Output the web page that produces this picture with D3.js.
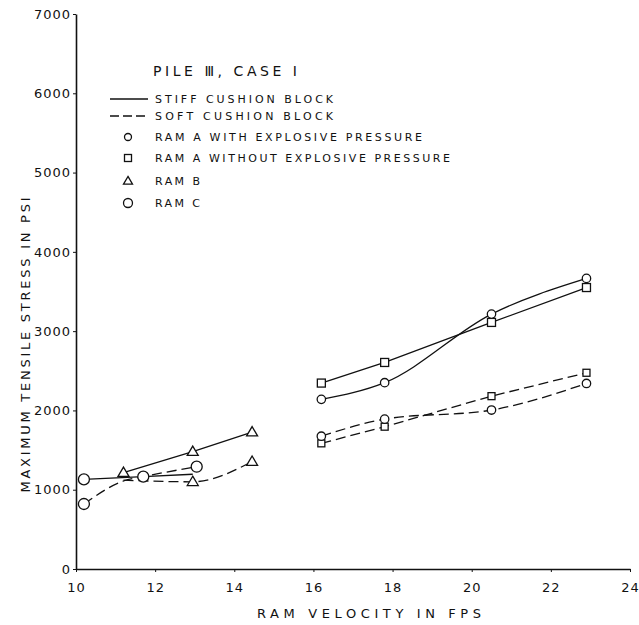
<!DOCTYPE html>
<html>
<head>
<meta charset="utf-8">
<script src="https://cdn.jsdelivr.net/npm/d3@7/dist/d3.min.js"></script>
<style>
  html, body { margin: 0; padding: 0; background: #fff; }
  svg text { font-family: "DejaVu Sans", sans-serif; fill: #111; }
</style>
</head>
<body>
<svg id="chart" width="639" height="625"></svg>
<script>
// ---- data ----
const xTicks = [10, 12, 14, 16, 18, 20, 22, 24];
const yTicks = [0, 1000, 2000, 3000, 4000, 5000, 6000, 7000];

// Ram A, right cluster
const ramAVel = [16.2, 17.8, 20.5, 22.9];
const ramAWithStiff = [2140, 2350, 3215, 3665];     // circles, solid
const ramAWithoutStiff = [2345, 2605, 3110, 3550];  // squares, solid
const ramAWithSoft = [1675, 1890, 2005, 2340];      // circles, dashed
const ramAWithoutSoft = [1585, 1795, 2180, 2475];   // squares, dashed

// Ram B (triangles)
const ramBVel = [11.2, 12.95, 14.45];
const ramBStiff = [1215, 1480, 1725];
const ramBSoft = [1120, 1100, 1355];
const ramBSoftMarked = [false, true, true];

// Ram C (large circles)
const ramCStiffVel = [10.2, 11.7, 12.95];
const ramCStiff = [1130, 1165, 1195];
const ramCStiffMarked = [true, true, false];
const ramCSoftVel = [10.2, 11.2, 11.75, 13.05];
const ramCSoft = [820, 1110, 1170, 1290];
const ramCSoftMarked = [true, false, false, true];

const legendLabels = [
  "STIFF CUSHION BLOCK",
  "SOFT CUSHION BLOCK",
  "RAM A WITH EXPLOSIVE PRESSURE",
  "RAM A WITHOUT EXPLOSIVE PRESSURE",
  "RAM B",
  "RAM C"
];

// ---- drawing ----
const svg = d3.select("#chart");
const ink = "#111";
const x = d3.scaleLinear().domain([10, 24]).range([76, 630]);
const y = d3.scaleLinear().domain([0, 7000]).range([569, 14]);

// axes
const xAxis = d3.axisBottom(x).tickValues(xTicks).tickSize(3).tickSizeOuter(0).tickFormat(d3.format("d"));
const gx = svg.append("g").attr("transform", `translate(0,${y(0)})`).call(xAxis);
gx.select(".domain").attr("stroke", ink).attr("stroke-width", 1.6);
gx.selectAll(".tick line").attr("stroke", ink);
gx.selectAll(".tick text").attr("font-size", 13).attr("dy", null).attr("y", 23)
  .attr("letter-spacing", 1).style("font-family", "DejaVu Sans");

const yAxis = d3.axisLeft(y).tickValues(yTicks).tickSize(3).tickSizeOuter(0).tickFormat(d3.format("d"));
const gy = svg.append("g").attr("transform", `translate(${x(10)},0)`).call(yAxis);
gy.select(".domain").attr("stroke", ink).attr("stroke-width", 1.6);
gy.selectAll(".tick line").attr("stroke", ink);
gy.selectAll(".tick text").attr("font-size", 13).attr("x", -5)
  .attr("letter-spacing", 1).style("font-family", "DejaVu Sans");

// axis titles
svg.append("text").attr("x", 369).attr("y", 618).attr("text-anchor", "middle")
  .attr("font-size", 13).attr("textLength", 224).attr("lengthAdjust", "spacing")
  .text("RAM VELOCITY IN FPS");
svg.append("text").attr("transform", "translate(30,345) rotate(-90)")
  .attr("text-anchor", "middle").attr("font-size", 13)
  .attr("textLength", 295).attr("lengthAdjust", "spacing")
  .text("MAXIMUM TENSILE STRESS IN PSI");

// series
function pts(vel, vals) { return vel.map((v, i) => [v, vals[i]]); }
const smooth = d3.line().x(d => x(d[0])).y(d => y(d[1])).curve(d3.curveMonotoneX);
const straight = d3.line().x(d => x(d[0])).y(d => y(d[1]));

const series = [
  { p: pts(ramAVel, ramAWithoutStiff), dash: null, line: straight, m: "square", s: 8 },
  { p: pts(ramAVel, ramAWithStiff), dash: null, line: smooth, m: "circle", s: 4.2 },
  { p: pts(ramAVel, ramAWithoutSoft), dash: "10,5", line: straight, m: "square", s: 7 },
  { p: pts(ramAVel, ramAWithSoft), dash: "10,5", line: smooth, m: "circle", s: 4.2 },
  { p: pts(ramBVel, ramBStiff), dash: null, line: straight, m: "triangle", s: 11 },
  { p: pts(ramBVel, ramBSoft), dash: "10,5", line: smooth, m: "triangle", s: 11, marked: ramBSoftMarked },
  { p: pts(ramCStiffVel, ramCStiff), dash: null, line: straight, m: "circle", s: 5.5, marked: ramCStiffMarked },
  { p: pts(ramCSoftVel, ramCSoft), dash: "10,5", line: smooth, m: "circle", s: 5.5, marked: ramCSoftMarked }
];

const linesG = svg.append("g");
const marksG = svg.append("g");

function drawMarker(g, type, cx, cy, s) {
  if (type === "circle") {
    g.append("circle").attr("cx", cx).attr("cy", cy).attr("r", s)
      .attr("fill", "#fff").attr("stroke", ink).attr("stroke-width", 1.3);
  } else if (type === "square") {
    g.append("rect").attr("x", cx - s / 2).attr("y", cy - s / 2).attr("width", s).attr("height", s)
      .attr("fill", "#fff").attr("stroke", ink).attr("stroke-width", 1.3);
  } else {
    const h = s * 0.85;
    g.append("path").attr("d", `M${cx},${cy - h * 0.6}L${cx + s / 2},${cy + h * 0.4}L${cx - s / 2},${cy + h * 0.4}Z`)
      .attr("fill", "#fff").attr("stroke", ink).attr("stroke-width", 1.3);
  }
}

series.forEach(sr => {
  linesG.append("path").attr("d", sr.line(sr.p)).attr("fill", "none")
    .attr("stroke", ink).attr("stroke-width", 1.3)
    .attr("stroke-dasharray", sr.dash);
});
series.forEach(sr => {
  sr.p.forEach((d, i) => {
    if (sr.marked && !sr.marked[i]) return;
    drawMarker(marksG, sr.m, x(d[0]), y(d[1]), sr.s);
  });
});

// legend
svg.append("text").attr("x", 153).attr("y", 76).attr("font-size", 14)
  .attr("textLength", 144).attr("lengthAdjust", "spacing").text("PILE \u2162, CASE I");

const legY = [99, 116, 137, 158, 181, 203];
const legW = [178, 178, 267, 295, 45, 45];
const lg = svg.append("g");
lg.append("line").attr("x1", 110).attr("x2", 148).attr("y1", legY[0]).attr("y2", legY[0])
  .attr("stroke", ink).attr("stroke-width", 1.3);
lg.append("line").attr("x1", 110).attr("x2", 148).attr("y1", legY[1]).attr("y2", legY[1])
  .attr("stroke", ink).attr("stroke-width", 1.3).attr("stroke-dasharray", "9,4");
drawMarker(lg, "circle", 128, legY[2], 3.5);
drawMarker(lg, "square", 128, legY[3], 7);
drawMarker(lg, "triangle", 128, legY[4], 9);
drawMarker(lg, "circle", 128, legY[5], 4.5);
legendLabels.forEach((t, i) => {
  lg.append("text").attr("x", 155).attr("y", legY[i] + 4).attr("font-size", 11)
    .attr("textLength", legW[i]).attr("lengthAdjust", "spacing").text(t);
});
</script>
</body>
</html>
